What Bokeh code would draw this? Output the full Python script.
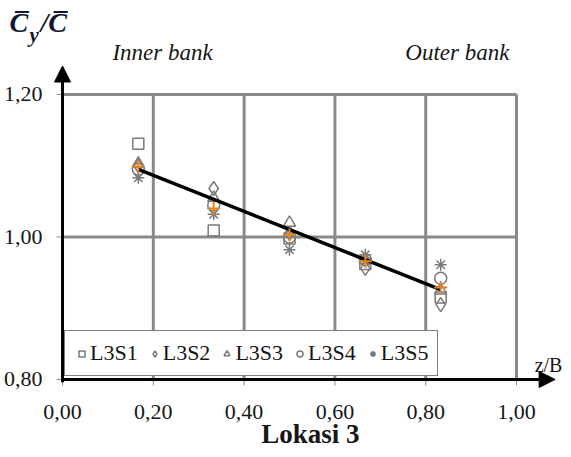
import math
from bokeh.plotting import figure
from bokeh.models import Range1d, Label, Arrow, NormalHead, Legend
from bokeh.embed import file_html
from bokeh.resources import INLINE

# ---- data ----
z_b = [0.167, 0.333, 0.500, 0.667, 0.833]
L3S1 = [1.131, 1.009, 0.998, 0.962, 0.915]
L3S2 = [1.100, 1.068, 1.005, 0.956, 0.905]
L3S3 = [1.103, 1.055, 1.020, 0.968, 0.925]
L3S4 = [1.095, 1.045, 1.000, 0.968, 0.942]
L3S5 = [1.083, 1.032, 0.982, 0.975, 0.961]
mean_vals = [1.099, 1.040, 1.003, 0.966, 0.929]
trend_x = [0.167, 0.833]
trend_y = [1.095, 0.926]
x_ticks = [0.0, 0.2, 0.4, 0.6, 0.8, 1.0]
x_tick_labels = ["0,00", "0,20", "0,40", "0,60", "0,80", "1,00"]
y_ticks = [0.8, 1.0, 1.2]
y_tick_labels = ["0,80", "1,00", "1,20"]
series_names = ["L3S1", "L3S2", "L3S3", "L3S4", "L3S5"]

SERIF = "Liberation Serif"
GRID = "#8a8a8a"
MARK = "#7a7a7a"
INK = "#161616"

x0, x1 = x_ticks[0], x_ticks[-1]
y0, y1 = y_ticks[0], y_ticks[-1]

# frame covers the whole canvas; axes are drawn at x=0 / y=0.80 inside it
p = figure(width=568, height=455, output_backend="svg", toolbar_location=None,
           x_range=Range1d(-0.1366, 1.1145), y_range=Range1d(0.6933, 1.3319),
           x_axis_location=None, y_axis_location=None,
           min_border=0, min_border_left=0, min_border_right=0,
           min_border_top=0, min_border_bottom=0)
p.outline_line_color = None
p.xgrid.visible = False
p.ygrid.visible = False

# grid lines (from the tick lists)
gx = x_ticks[1:]
p.segment(x0=gx, y0=[y0] * len(gx), x1=gx, y1=[y1] * len(gx),
          line_color=GRID, line_width=3)
gy = y_ticks[1:]
p.segment(x0=[x0] * len(gy), y0=gy, x1=[x1] * len(gy), y1=gy,
          line_color=GRID, line_width=3)

# tick marks
p.scatter([x0] * len(y_ticks), y_ticks, marker="dash", size=12,
          line_color=GRID, line_width=1)
p.scatter(x_ticks, [y0] * len(x_ticks), marker="dash", angle=math.pi / 2, size=12,
          line_color=GRID, line_width=1)

# tick labels
p.text([x0] * len(y_ticks), y_ticks, text=y_tick_labels, text_align="right",
       text_baseline="middle", x_offset=-20, text_font={"value": SERIF},
       text_font_size="22px", text_color=INK)
p.text(x_ticks, [y0] * len(x_ticks), text=x_tick_labels, text_align="center",
       text_baseline="top", y_offset=26, text_font={"value": SERIF},
       text_font_size="22px", text_color=INK)

# data markers
markers = ["square", "diamond", "triangle", "circle", "asterisk"]
sizes = [11, 14, 12, 12, 12]
legend_items = []
for name, vals, mk, sz in zip(series_names, [L3S1, L3S2, L3S3, L3S4, L3S5], markers, sizes):
    r = p.scatter(z_b, vals, marker=mk, size=sz, fill_color=None,
                  line_color=MARK, line_width=1.5)
    legend_items.append((name, [r]))

p.line(trend_x, trend_y, line_color="black", line_width=3.5)
p.scatter(z_b, mean_vals, marker="cross", size=13, line_color="#e8821e", line_width=2)

legend = Legend(items=legend_items, orientation="horizontal", location=(64, 79),
                label_text_font=SERIF, label_text_font_size="22px",
                label_text_color=INK, label_height=26,
                glyph_width=15, glyph_height=15, label_standoff=1, spacing=9,
                padding=9, margin=0, border_line_color="black", border_line_width=1.5,
                background_fill_color="white", background_fill_alpha=1)
p.add_layout(legend, "center")

# axis arrows
p.add_layout(Arrow(end=NormalHead(size=16, fill_color="black", line_color="black"),
                   x_start=x0, y_start=y0, x_end=1.085, y_end=y0,
                   line_color="black", line_width=3))
p.add_layout(Arrow(end=NormalHead(size=16, fill_color="black", line_color="black"),
                   x_start=x0, y_start=y0 - 0.004, x_end=x0, y_end=1.24,
                   line_color="black", line_width=3))

# texts
p.add_layout(Label(x=0.11, y=1.242, text="Inner bank", text_font=SERIF,
                   text_font_style="italic", text_font_size="23px", text_color=INK))
p.add_layout(Label(x=0.755, y=1.242, text="Outer bank", text_font=SERIF,
                   text_font_style="italic", text_font_size="23px", text_color=INK))
p.add_layout(Label(x=1.04, y=y0, y_offset=3, text="z/B", text_font=SERIF,
                   text_font_size="20px", text_color=INK))
p.add_layout(Label(x=0.546, y=0.7018, text="Lokasi 3", text_font=SERIF,
                   text_font_style="bold", text_font_size="27px", text_color=INK,
                   text_align="center"))
# quantity label  C̄y / C̄
TITLE_INK = "#141432"
p.add_layout(Label(x=-0.1167, y=1.2786, text="C\u0305", text_font=SERIF,
                   text_font_style="bold italic", text_font_size="28px", text_color=TITLE_INK))
p.add_layout(Label(x=-0.0727, y=1.2660, text="y", text_font=SERIF,
                   text_font_style="bold italic", text_font_size="21px", text_color=TITLE_INK))
p.add_layout(Label(x=-0.0485, y=1.2786, text="/C\u0305", text_font=SERIF,
                   text_font_style="bold italic", text_font_size="28px", text_color=TITLE_INK))

open("out.html", "w").write(file_html(p, INLINE))
